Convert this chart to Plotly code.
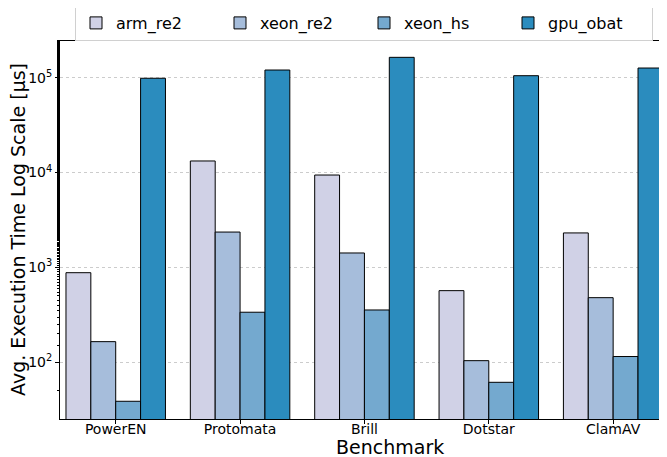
import plotly.graph_objects as go

benchmarks = ["PowerEN", "Protomata", "Brill", "Dotstar", "ClamAV"]
series_names = ["arm_re2", "xeon_re2", "xeon_hs", "gpu_obat"]
arm_re2 = [880, 13250, 9420, 569, 2310]
xeon_re2 = [165, 2360, 1420, 104, 480]
xeon_hs = [38.8, 337, 356, 61.5, 115]
gpu_obat = [98700, 120500, 164000, 105000, 126500]
colors = ["#d0d1e6", "#a6bddb", "#74a9cf", "#2b8cbe"]
y_tickvals = [100, 1000, 10000, 100000]
y_ticktext = ["10<sup>2</sup>", "10<sup>3</sup>", "10<sup>4</sup>", "10<sup>5</sup>"]

FONT = "DejaVu Sans"
# page body has an 8px default margin; figure is sized so the plot lands where the reference has it
W, H = 659, 449
L, T, B = 52, 33, 38
PW, PH = W - L, H - T - B

fig = go.Figure()
for name, vals, col in zip(series_names, [arm_re2, xeon_re2, xeon_hs, gpu_obat], colors):
    fig.add_trace(go.Bar(
        name=name, x=list(range(len(benchmarks))), y=vals,
        marker=dict(color=col, line=dict(color="black", width=1)),
    ))

fig.update_layout(
    width=W, height=H,
    margin=dict(l=L, r=0, t=T, b=B, autoexpand=False),
    paper_bgcolor="white", plot_bgcolor="white",
    barmode="group", bargap=0.2, bargroupgap=0,
    font=dict(family=FONT, color="black"),
    legend=dict(
        orientation="h", x=(67 - L) / PW, y=(T + PH + 3) / PH, xanchor="left", yanchor="top",
        font=dict(size=16, family=FONT),
        bordercolor="#d0d0d0", borderwidth=1, bgcolor="white",
        entrywidth=99, entrywidthmode="pixels",
    ),
    xaxis=dict(
        range=[-0.448, 4.433],
        tickvals=list(range(len(benchmarks))), ticktext=benchmarks,
        tickfont=dict(size=14), ticks="outside", ticklen=4, tickcolor="black",
        ticklabelstandoff=-7,
        showline=True, linecolor="black", linewidth=1, mirror=True,
        showgrid=False, zeroline=False, automargin=False,
    ),
    yaxis=dict(
        type="log", range=[1.402, 5.387],
        tickvals=y_tickvals, ticktext=y_ticktext,
        tickfont=dict(size=14), ticks="outside", ticklen=4, tickcolor="black",
        showline=True, linecolor="black", linewidth=1, mirror=False,
        showgrid=True, gridcolor="#cccccc", griddash="dot", gridwidth=1,
        zeroline=False, automargin=False,
        minor=dict(ticks="outside", ticklen=2, tickcolor="black", showgrid=False),
    ),
    annotations=[
        dict(text="Benchmark", xref="paper", yref="paper",
             x=0.5 - (0.5 * (L + PW) - (L + PW / 2)) / PW, y=-(439 - (T + PH)) / PH,
             xanchor="center", yanchor="middle", showarrow=False, font=dict(size=19)),
        dict(text="Avg. Execution Time Log Scale [μs]", xref="paper", yref="paper",
             x=-(L - 10) / PW, y=0.5, textangle=-90,
             xanchor="center", yanchor="middle", showarrow=False, font=dict(size=19)),
    ],
)
fig.write_html("out.html")
